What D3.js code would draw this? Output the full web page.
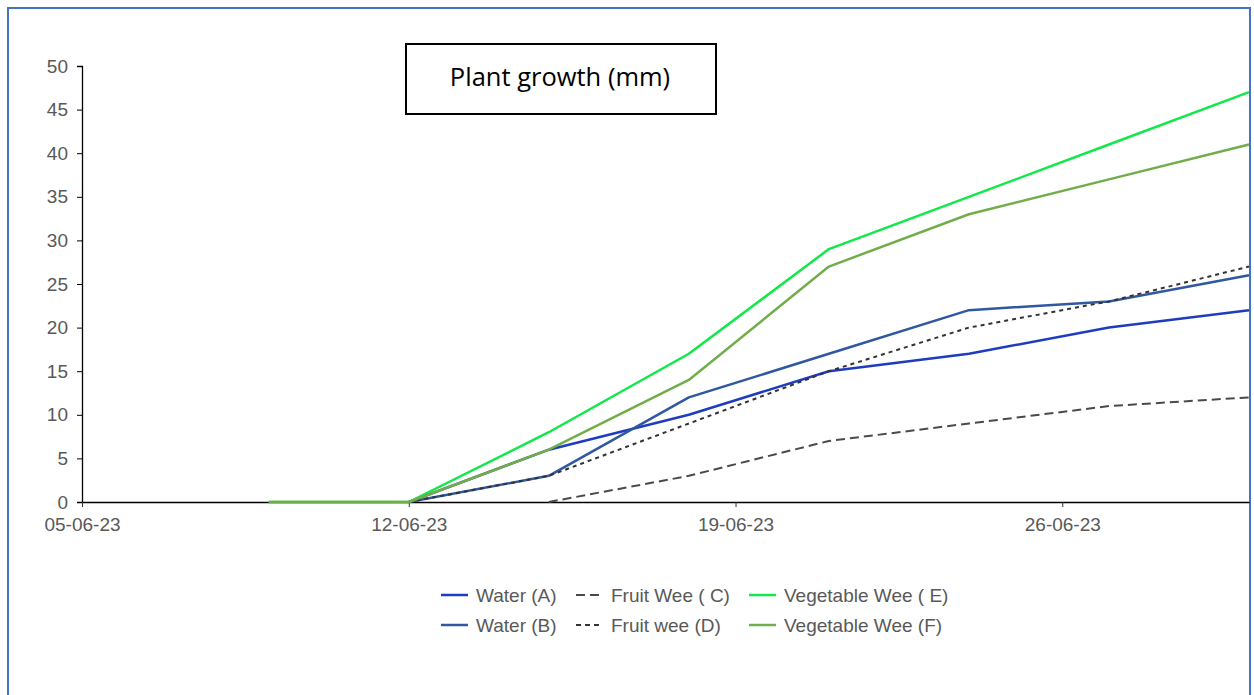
<!DOCTYPE html>
<html>
<head>
<meta charset="utf-8">
<script src="https://cdn.jsdelivr.net/npm/d3@7"></script>
<style>
  body { margin: 0; background: #fff; }
  text { font-family: "Liberation Sans", Arial, sans-serif; }
</style>
</head>
<body>
<svg width="1254" height="695"></svg>
<script>
// data
var dates = ['09-06-23', '12-06-23', '15-06-23', '18-06-23', '21-06-23', '24-06-23', '27-06-23', '30-06-23'];
var waterA = [null, 0, 6, 10, 15, 17, 20, 22];
var waterB = [null, 0, 3, 12, 17, 22, 23, 26];
var fruitC = [null, null, 0, 3, 7, 9, 11, 12];
var fruitD = [null, 0, 3, 9, 15, 20, 23, 27];
var vegE = [0, 0, 8, 17, 29, 35, 41, 47];
var vegF = [0, 0, 6, 14, 27, 33, 37, 41];
var xTicks = ['05-06-23', '12-06-23', '19-06-23', '26-06-23'];
var yTicks = [0, 5, 10, 15, 20, 25, 30, 35, 40, 45, 50];

var parse = d3.timeParse('%d-%m-%y'),
    fmt = d3.timeFormat('%d-%m-%y');

var series = [
  { name: 'Water (A)', values: waterA, color: '#1f3cbf', dash: null, w: 2.5 },
  { name: 'Water (B)', values: waterB, color: '#3058a0', dash: null, w: 2.5 },
  { name: 'Fruit Wee ( C)', values: fruitC, color: '#4a4a4a', dash: '9,5', w: 2 },
  { name: 'Fruit wee (D)', values: fruitD, color: '#333333', dash: '4,4', w: 2 },
  { name: 'Vegetable Wee ( E)', values: vegE, color: '#11e84a', dash: null, w: 2.5 },
  { name: 'Vegetable Wee (F)', values: vegF, color: '#72ad4c', dash: null, w: 2.5 }
];

var svg = d3.select('svg');

// outer frame
svg.append('rect')
  .attr('x', 8).attr('y', 8).attr('width', 1242).attr('height', 700)
  .attr('fill', 'none').attr('stroke', '#4472c4').attr('stroke-width', 2);

var x = d3.scaleTime()
  .domain([parse('05-06-23'), parse('30-06-23')])
  .range([82, 1249]);
var y = d3.scaleLinear().domain([0, 50]).range([502, 66]);

// y axis
var yAxis = svg.append('g')
  .attr('transform', 'translate(82,0)')
  .call(d3.axisLeft(y).tickValues(yTicks).tickSize(5).tickPadding(9));
yAxis.select('.domain').attr('stroke', '#000').attr('stroke-width', 1.3);
yAxis.selectAll('line').attr('stroke', '#000');
yAxis.selectAll('text').attr('fill', '#595959').style('font-size', '19px');

// x axis
var xAxis = svg.append('g')
  .attr('transform', 'translate(0,502)')
  .call(d3.axisBottom(x).tickValues(xTicks.map(parse)).tickFormat(fmt).tickSize(5).tickSizeOuter(0).tickPadding(11));
xAxis.select('.domain').attr('stroke', '#000').attr('stroke-width', 1.3);
xAxis.selectAll('line').attr('stroke', '#333');
xAxis.selectAll('text').attr('fill', '#595959').style('font-size', '19px');

// lines
var line = d3.line()
  .defined(d => d.v !== null)
  .x(d => x(d.date))
  .y(d => y(d.v));

series.forEach(function(s) {
  var pts = dates.map((d, i) => ({ date: parse(d), v: s.values[i] }));
  svg.append('path')
    .datum(pts)
    .attr('d', line)
    .attr('fill', 'none')
    .attr('stroke', s.color)
    .attr('stroke-width', s.w)
    .attr('stroke-dasharray', s.dash)
    .attr('stroke-linejoin', 'round');
});

// title box
svg.append('rect')
  .attr('x', 406).attr('y', 44).attr('width', 310).attr('height', 70)
  .attr('fill', '#fff').attr('stroke', '#000').attr('stroke-width', 2);
svg.append('text')
  .attr('x', 560).attr('y', 86)
  .attr('text-anchor', 'middle')
  .style('font-family', '"Open Sans", "Noto Sans", sans-serif')
  .style('font-size', '25.5px')
  .attr('fill', '#000')
  .text('Plant growth (mm)');

// legend, three columns by two rows
var legSwatch = [441, 576, 749],
    legText = [476, 611, 784],
    legRows = [595, 625];
var legOrder = [0, 2, 4, 1, 3, 5];
legOrder.forEach(function(si, k) {
  var s = series[si],
      c = k % 3,
      ly = legRows[Math.floor(k / 3)];
  svg.append('line')
    .attr('x1', legSwatch[c]).attr('x2', legSwatch[c] + 27).attr('y1', ly).attr('y2', ly)
    .attr('stroke', s.color).attr('stroke-width', s.w)
    .attr('stroke-dasharray', s.dash ? (si === 2 ? '9,5' : '5,4') : null);
  svg.append('text')
    .attr('x', legText[c]).attr('y', ly + 7)
    .attr('fill', '#595959')
    .style('font-size', '19px')
    .text(s.name);
});
</script>
</body>
</html>
